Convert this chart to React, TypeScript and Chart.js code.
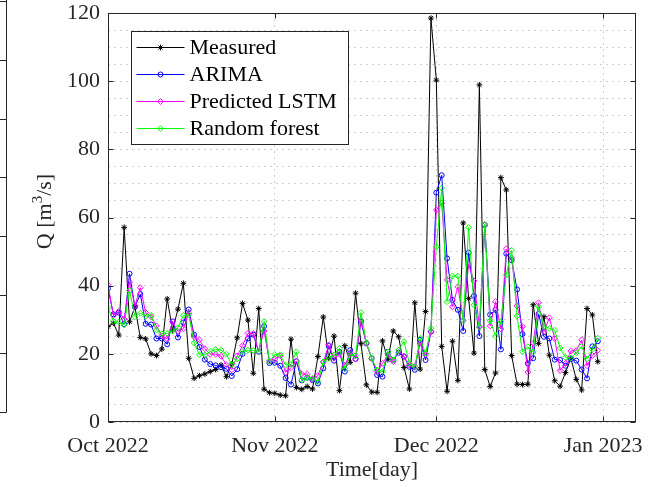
import React, { useEffect, useRef } from "react";
import { Chart, registerables } from "chart.js";

Chart.register(...registerables);

// Daily series, 1 Oct 2022 (day 0) to 31 Dec 2022 (day 91)
const startDate = "2022-10-01";
const tickDays = [0, 31, 61, 92];
const tickLabels = ["Oct 2022", "Nov 2022", "Dec 2022", "Jan 2023"];
const yMajorTicks = [0, 20, 40, 60, 80, 100, 120];
const xMaxDay = 98.1;

const measured = [
  28.0, 29.0, 25.5, 57.1, 29.4, 33.8, 24.8, 24.4, 20.0, 19.5,
  21.4, 36.1, 27.0, 33.1, 40.7, 18.7, 12.8, 13.6, 14.1, 14.8,
  15.4, 16.7, 13.3, 17.0, 24.7, 34.8, 29.9, 14.3, 33.3, 9.6,
  8.6, 8.4, 7.9, 7.7, 24.3, 10.1, 9.6, 10.4, 9.7, 19.2,
  30.8, 18.7, 25.2, 9.2, 22.4, 17.5, 37.8, 23.0, 10.9, 8.8,
  8.7, 23.8, 18.3, 26.7, 25.0, 16.0, 9.7, 35.0, 15.5, 32.4,
  118.5, 100.3, 22.2, 9.0, 23.7, 12.2, 58.4, 36.3, 20.2, 98.9,
  15.4, 10.4, 14.4, 71.7, 68.1, 19.5, 11.1, 11.0, 11.1, 34.4,
  23.0, 30.9, 19.6, 12.1, 10.5, 14.5, 18.7, 12.5, 9.4, 33.3,
  31.4, 17.7,
];

const arima = [
  39.2, 31.6, 32.1, 28.7, 43.5, 33.8, 37.5, 28.8, 28.6, 24.5,
  24.5, 22.8, 29.5, 24.8, 29.2, 33.0, 25.6, 22.0, 18.3, 17.0,
  16.6, 16.1, 15.6, 13.5, 15.5, 20.0, 24.5, 25.6, 20.6, 28.1,
  17.3, 17.4, 16.5, 12.9, 11.0, 17.8, 12.2, 13.0, 12.3, 11.3,
  15.8, 22.3, 18.0, 20.6, 14.8, 21.1, 18.5, 29.4, 23.1, 18.7,
  13.8, 13.3, 20.6, 18.2, 20.3, 19.2, 16.2, 15.3, 24.1, 18.2,
  26.5, 67.3, 72.4, 48.0, 35.8, 32.9, 26.7, 49.7, 37.0, 25.2,
  57.8, 31.5, 32.9, 21.3, 49.4, 47.5, 38.9, 25.8, 17.2, 18.7,
  31.7, 25.0, 24.5, 18.3, 18.2, 16.5, 18.5, 18.0, 15.4, 12.8,
  22.2, 23.7,
];

const lstm = [
  40.3, 31.2, 32.5, 30.2, 41.1, 34.1, 39.4, 32.1, 30.9, 28.2,
  25.3, 24.4, 29.4, 26.6, 27.4, 32.0, 25.0, 24.1, 21.5, 19.9,
  19.9, 19.3, 16.8, 15.3, 19.4, 22.4, 26.0, 26.0, 20.7, 26.7,
  17.9, 18.5, 19.4, 14.6, 15.9, 17.9, 14.1, 14.0, 12.6, 13.6,
  17.5, 22.6, 18.7, 19.9, 16.7, 20.1, 18.5, 29.9, 23.1, 18.7,
  14.8, 17.2, 19.7, 17.7, 21.1, 19.2, 16.7, 16.4, 23.1, 19.7,
  26.5, 62.2, 64.2, 41.7, 33.8, 39.7, 29.9, 46.3, 41.4, 28.0,
  57.8, 28.2, 35.3, 27.3, 50.8, 48.2, 34.0, 28.0, 14.6, 23.1,
  35.0, 26.5, 30.6, 24.5, 15.1, 17.2, 20.8, 21.0, 24.1, 16.5,
  19.5, 21.0,
];

const randomForest = [
  33.6, 29.6, 29.3, 28.5, 38.6, 30.9, 31.9, 31.0, 31.3, 27.0,
  25.9, 26.0, 26.7, 27.7, 31.3, 31.5, 23.2, 19.7, 19.7, 20.7,
  21.3, 21.1, 19.9, 16.8, 18.5, 20.8, 21.1, 21.0, 20.7, 29.5,
  17.8, 19.8, 19.7, 16.7, 16.9, 20.6, 12.3, 13.0, 12.8, 11.8,
  17.7, 18.7, 19.7, 21.6, 15.7, 19.7, 19.5, 32.1, 23.3, 18.7,
  15.3, 14.8, 20.6, 18.2, 21.1, 23.6, 17.2, 16.2, 24.5, 20.1,
  27.5, 51.4, 68.6, 35.3, 42.8, 42.8, 29.8, 57.1, 34.3, 27.8,
  58.0, 29.7, 25.2, 29.4, 43.2, 50.4, 31.1, 20.6, 22.1, 20.6,
  33.8, 28.0, 27.5, 26.9, 21.7, 19.0, 18.7, 20.3, 22.2, 18.5,
  21.3, 24.6,
];

const seriesNames = ["Measured", "ARIMA", "Predicted LSTM", "Random forest"];
const seriesColors = ["#000000", "#0000ff", "#ff00ff", "#00ff00"];
const seriesMarkers = ["star", "circle", "rectRot", "rectRot"];
const yTitleParts = ["Q [m", "3", "/s]"];

const SERIF = "'Liberation Serif', 'Times New Roman', Times, serif";
const AXIS_COLOR = "#262626";
const GRID_COLOR = "#cfcfcf";

function drawMarker(ctx: CanvasRenderingContext2D, style: string, x: number, y: number, r: number) {
  ctx.beginPath();
  if (style === "circle") {
    ctx.arc(x, y, r, 0, Math.PI * 2);
  } else if (style === "rectRot") {
    ctx.moveTo(x, y - r);
    ctx.lineTo(x + r, y);
    ctx.lineTo(x, y + r);
    ctx.lineTo(x - r, y);
    ctx.closePath();
  } else {
    for (let k = 0; k < 4; k++) {
      const ang = (k * Math.PI) / 4;
      ctx.moveTo(x - Math.cos(ang) * r, y - Math.sin(ang) * r);
      ctx.lineTo(x + Math.cos(ang) * r, y + Math.sin(ang) * r);
    }
  }
  ctx.stroke();
}

const boxPlugin = {
  id: "matlabBox",
  afterDraw(chart: any) {
    const { ctx, chartArea: a, scales } = chart;
    ctx.save();
    ctx.strokeStyle = AXIS_COLOR;
    ctx.lineWidth = 1;
    const L = Math.round(a.left) + 0.5;
    const R = Math.round(a.right) - 0.5;
    const T = Math.round(a.top) + 0.5;
    const B = Math.round(a.bottom) - 0.5;
    ctx.strokeRect(L, T, R - L, B - T);
    const tl = 5;
    ctx.beginPath();
    yMajorTicks.forEach((v) => {
      const y = Math.round(scales.y.getPixelForValue(v)) + 0.5;
      ctx.moveTo(L, y);
      ctx.lineTo(L + tl, y);
      ctx.moveTo(R, y);
      ctx.lineTo(R - tl, y);
    });
    tickDays.forEach((d) => {
      const x = Math.round(scales.x.getPixelForValue(d)) + 0.5;
      ctx.moveTo(x, B);
      ctx.lineTo(x, B - tl);
      ctx.moveTo(x, T);
      ctx.lineTo(x, T + tl);
    });
    ctx.stroke();

    // neighbouring panel edge (cut off at the left of the figure)
    ctx.beginPath();
    ctx.moveTo(6.5, 0);
    ctx.lineTo(6.5, 412.5);
    ctx.lineTo(0, 412.5);
    for (let k = 1; k <= 7; k++) {
      const y = Math.round(412 - k * 58.7) + 0.5;
      ctx.moveTo(0, y);
      ctx.lineTo(6.5, y);
    }
    ctx.stroke();

    // y-axis title with a raised superscript, rotated
    ctx.fillStyle = AXIS_COLOR;
    ctx.textBaseline = "alphabetic";
    ctx.textAlign = "left";
    const big = `22px ${SERIF}`;
    const small = `15px ${SERIF}`;
    ctx.font = big;
    const w0 = ctx.measureText(yTitleParts[0]).width;
    const w2 = ctx.measureText(yTitleParts[2]).width;
    ctx.font = small;
    const w1 = ctx.measureText(yTitleParts[1]).width;
    const total = w0 + w1 + w2;
    const cy = (a.top + a.bottom) / 2 - 6;
    ctx.translate(51, cy);
    ctx.rotate(-Math.PI / 2);
    let px = -total / 2;
    ctx.font = big;
    ctx.fillText(yTitleParts[0], px, 0);
    px += w0;
    ctx.font = small;
    ctx.fillText(yTitleParts[1], px, -9);
    px += w1;
    ctx.font = big;
    ctx.fillText(yTitleParts[2], px, 0);
    ctx.restore();
  },
};

const legendPlugin = {
  id: "insideLegend",
  afterDraw(chart: any) {
    const { ctx, chartArea: a } = chart;
    const x0 = Math.round(a.left) + 23.5;
    const y0 = Math.round(a.top) + 18.5;
    const w = 217;
    const h = 113;
    ctx.save();
    ctx.fillStyle = "#ffffff";
    ctx.fillRect(x0, y0, w, h);
    ctx.strokeStyle = AXIS_COLOR;
    ctx.lineWidth = 1;
    ctx.strokeRect(x0, y0, w, h);
    ctx.font = `22px ${SERIF}`;
    ctx.textBaseline = "middle";
    ctx.textAlign = "left";
    chart.data.datasets.forEach((ds: any, i: number) => {
      const cy = y0 + 16 + i * 27;
      ctx.strokeStyle = ds.borderColor;
      ctx.lineWidth = ds.borderWidth;
      ctx.beginPath();
      ctx.moveTo(x0 + 5, cy);
      ctx.lineTo(x0 + 53, cy);
      ctx.stroke();
      ctx.lineWidth = 1;
      drawMarker(ctx, ds.pointStyle, x0 + 29, cy, ds.pointRadius);
      ctx.fillStyle = "#000000";
      ctx.fillText(ds.label, x0 + 58, cy + 1);
    });
    ctx.restore();
  },
};

export default function App() {
  const canvasRef = useRef<HTMLCanvasElement>(null);

  useEffect(() => {
    const canvas = canvasRef.current;
    if (!canvas) return;
    const allSeries = [measured, arima, lstm, randomForest];
    const radii = [2.9, 2.5, 2.9, 2.9];
    const datasets = allSeries.map((values, s) => ({
      label: seriesNames[s],
      data: values.map((v, i) => ({ x: i, y: v })),
      borderColor: seriesColors[s],
      backgroundColor: "transparent",
      borderWidth: 1,
      pointStyle: seriesMarkers[s],
      pointRadius: radii[s],
      pointBorderColor: seriesColors[s],
      pointBackgroundColor: "transparent",
      pointBorderWidth: 1,
      tension: 0,
      fill: false,
      order: 4 - s,
    }));

    const chart = new Chart(canvas, {
      type: "line",
      data: { datasets },
      options: {
        responsive: false,
        devicePixelRatio: 1,
        animation: false,
        layout: { padding: { left: 0, right: 36, top: 13, bottom: 0 } },
        plugins: {
          legend: { display: false },
          tooltip: { enabled: false },
        },
        scales: {
          x: {
            type: "linear",
            min: 0,
            max: xMaxDay,
            afterBuildTicks: (scale: any) => {
              scale.ticks = tickDays.map((d) => ({ value: d }));
            },
            afterFit: (scale: any) => {
              scale.height = 65;
              scale.paddingLeft = 0;
              scale.paddingRight = 0;
            },
            ticks: {
              autoSkip: false,
              maxRotation: 0,
              minRotation: 0,
              padding: 11,
              color: AXIS_COLOR,
              font: { family: SERIF, size: 22 },
              callback: (v: any) => {
                const idx = tickDays.indexOf(Number(v));
                return idx >= 0 ? tickLabels[idx] : "";
              },
            },
            grid: { color: GRID_COLOR, lineWidth: 1, drawTicks: false },
            border: { display: false, dash: [2, 4] },
            title: {
              display: true,
              text: "Time[day]",
              color: AXIS_COLOR,
              font: { family: SERIF, size: 22 },
              padding: { top: 0, bottom: 4 },
            },
          },
          y: {
            type: "linear",
            min: 0,
            max: 120,
            afterFit: (scale: any) => {
              scale.width = 108;
              scale.paddingTop = 0;
              scale.paddingBottom = 0;
            },
            ticks: {
              stepSize: 5,
              autoSkip: false,
              padding: 8,
              color: AXIS_COLOR,
              font: { family: SERIF, size: 22 },
              callback: (v: any) => (yMajorTicks.includes(Number(v)) ? String(v) : ""),
            },
            grid: { color: GRID_COLOR, lineWidth: 1, drawTicks: false },
            border: { display: false, dash: [2, 4] },
            title: { display: false },
          },
        },
      },
      plugins: [boxPlugin, legendPlugin],
    } as any);

    return () => chart.destroy();
  }, []);

  return (
    <div style={{ position: "absolute", left: 0, top: 0, width: 672, height: 487, background: "#ffffff" }}>
      <canvas ref={canvasRef} width={672} height={487} style={{ display: "block" }} data-start={startDate} />
    </div>
  );
}
